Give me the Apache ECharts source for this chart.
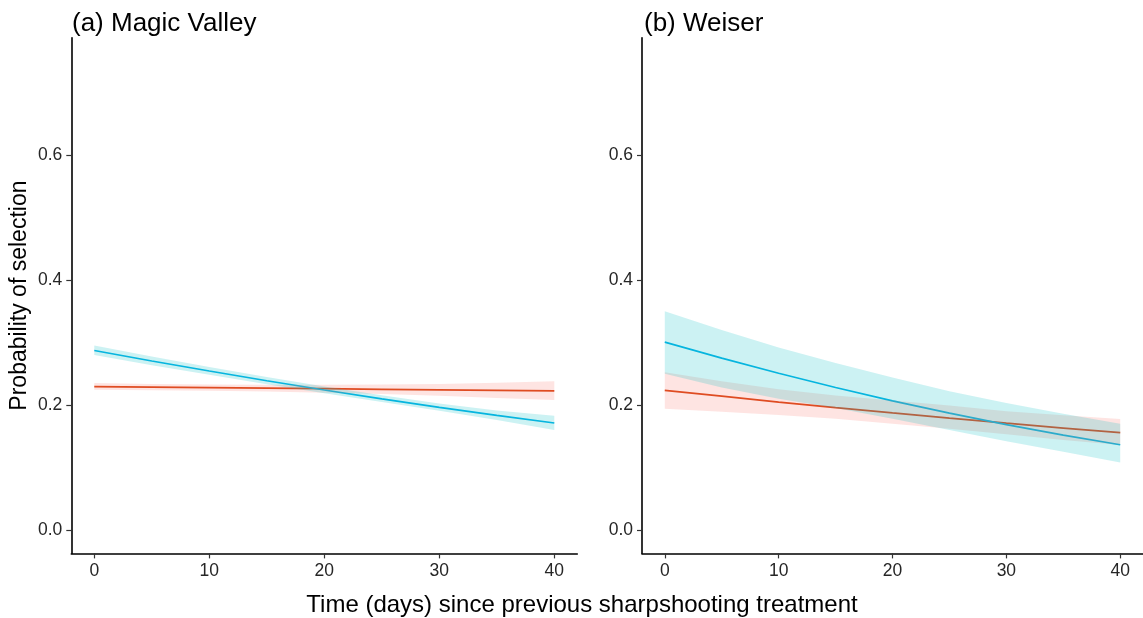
<!DOCTYPE html>
<html>
<head>
<meta charset="utf-8">
<script src="https://cdn.jsdelivr.net/npm/echarts@6/dist/echarts.min.js"></script>
<style>
  html, body { margin: 0; padding: 0; background: #fff; }
  #chart { width: 1143px; height: 618px; }
</style>
</head>
<body>
<div id="chart"></div>
<script>
// Days since the previous sharpshooting treatment
const days = [0, 5, 10, 15, 20, 25, 30, 35, 40];
const xTicks = [0, 10, 20, 30, 40];
const yTicks = [0, 0.2, 0.4, 0.6];

// (a) Magic Valley
const mvBlue      = [0.2872, 0.2704, 0.2543, 0.2388, 0.2239, 0.2097, 0.1962, 0.1834, 0.1712];
const mvBlueUpper = [0.2952, 0.2775, 0.2606, 0.2446, 0.2295, 0.2155, 0.2025, 0.1910, 0.1829];
const mvBlueLower = [0.2800, 0.2635, 0.2482, 0.2333, 0.2188, 0.2046, 0.1906, 0.1760, 0.1600];
const mvRed       = [0.2294, 0.2285, 0.2277, 0.2268, 0.2260, 0.2251, 0.2242, 0.2234, 0.2225];
const mvRedUpper  = [0.2352, 0.2337, 0.2327, 0.2322, 0.2322, 0.2327, 0.2337, 0.2355, 0.2379];
const mvRedLower  = [0.2244, 0.2234, 0.2226, 0.2214, 0.2197, 0.2174, 0.2146, 0.2112, 0.2078];

// (b) Weiser
const wBlue       = [0.3005, 0.2749, 0.2507, 0.2279, 0.2066, 0.1869, 0.1686, 0.1518, 0.1364];
const wBlueUpper  = [0.3500, 0.3200, 0.2920, 0.2670, 0.2440, 0.2220, 0.2030, 0.1860, 0.1700];
const wBlueLower  = [0.2500, 0.2280, 0.2100, 0.1950, 0.1780, 0.1600, 0.1420, 0.1250, 0.1080];
const wRed        = [0.2235, 0.2140, 0.2047, 0.1958, 0.1872, 0.1789, 0.1708, 0.1631, 0.1556];
const wRedUpper   = [0.2524, 0.2380, 0.2250, 0.2150, 0.2070, 0.1990, 0.1900, 0.1835, 0.1776];
const wRedLower   = [0.1940, 0.1890, 0.1840, 0.1780, 0.1700, 0.1620, 0.1530, 0.1440, 0.1360];

const FONT = "'Liberation Sans', Arial, sans-serif";
const RED_LINE = '#D9410F';
const BLUE_LINE = '#08B3E6';
const RED_FILL = 'rgba(248,118,109,0.2)';
const BLUE_FILL = 'rgba(0,191,196,0.2)';
const TICK_TEXT = '#262626';

const pairs = (xs, ys) => xs.map((x, i) => [x, ys[i]]);

function lineSeries(idx, ys, color) {
  return {
    type: 'line', xAxisIndex: idx, yAxisIndex: idx,
    data: pairs(days, ys), showSymbol: false, silent: true,
    lineStyle: { color: color, width: 1.7 }, z: 2
  };
}

// Confidence ribbon: polygon along the upper bound and back along the lower bound
function ribbonSeries(idx, lower, upper, fill) {
  return {
    type: 'custom', xAxisIndex: idx, yAxisIndex: idx,
    data: [0], silent: true, z: 3,
    renderItem: function (params, api) {
      const pts = [];
      for (let i = 0; i < days.length; i++) pts.push(api.coord([days[i], upper[i]]));
      for (let i = days.length - 1; i >= 0; i--) pts.push(api.coord([days[i], lower[i]]));
      return { type: 'polygon', shape: { points: pts }, style: { fill: fill } };
    }
  };
}

function xAxis(idx) {
  return {
    type: 'value', gridIndex: idx, min: -2, max: 42,
    splitLine: { show: false },
    axisLine: { onZero: false, lineStyle: { color: '#000', width: 1.6 } },
    axisTick: { customValues: xTicks, length: 5, lineStyle: { color: '#333', width: 1.2 } },
    axisLabel: { customValues: xTicks, color: TICK_TEXT, fontSize: 17.5, fontFamily: FONT, margin: 9 }
  };
}

function yAxis(idx, withName) {
  return {
    type: 'value', gridIndex: idx, min: -0.0375, max: 0.7875,
    splitLine: { show: false },
    axisLine: { show: true, onZero: false, lineStyle: { color: '#000', width: 1.6 } },
    axisTick: { show: true, customValues: yTicks, length: 5, lineStyle: { color: '#333', width: 1.2 } },
    axisLabel: {
      customValues: yTicks, color: TICK_TEXT, fontSize: 17.5, fontFamily: FONT, margin: 9,
      formatter: v => v.toFixed(1)
    },
    name: withName ? 'Probability of selection' : '',
    nameLocation: 'middle', nameRotate: 90, nameGap: 40,
    nameTextStyle: { color: '#000', fontSize: 23, fontFamily: FONT }
  };
}

const chart = echarts.init(document.getElementById('chart'), null, { renderer: 'canvas' });
chart.setOption({
  animation: false,
  backgroundColor: '#fff',
  title: [
    { text: '(a) Magic Valley', left: 72, top: 11, padding: 0,
      textStyle: { fontSize: 26, fontWeight: 'normal', color: '#000', fontFamily: FONT } },
    { text: '(b) Weiser', left: 644, top: 11, padding: 0,
      textStyle: { fontSize: 26, fontWeight: 'normal', color: '#000', fontFamily: FONT } }
  ],
  grid: [
    { left: 71.3, top: 37.8, width: 506, height: 515.6 },
    { left: 642, top: 37.8, width: 506.5, height: 515.6 }
  ],
  xAxis: [xAxis(0), xAxis(1)],
  yAxis: [yAxis(0, true), yAxis(1, false)],
  graphic: [{
    type: 'text', x: 582, y: 593.5, z: 10,
    style: {
      text: 'Time (days) since previous sharpshooting treatment',
      fill: '#000', fontSize: 24, fontFamily: FONT, align: 'center', verticalAlign: 'top'
    }
  }],
  series: [
    lineSeries(0, mvRed, RED_LINE),
    lineSeries(0, mvBlue, BLUE_LINE),
    ribbonSeries(0, mvRedLower, mvRedUpper, RED_FILL),
    ribbonSeries(0, mvBlueLower, mvBlueUpper, BLUE_FILL),
    lineSeries(1, wRed, RED_LINE),
    lineSeries(1, wBlue, BLUE_LINE),
    ribbonSeries(1, wRedLower, wRedUpper, RED_FILL),
    ribbonSeries(1, wBlueLower, wBlueUpper, BLUE_FILL)
  ]
});
</script>
</body>
</html>
